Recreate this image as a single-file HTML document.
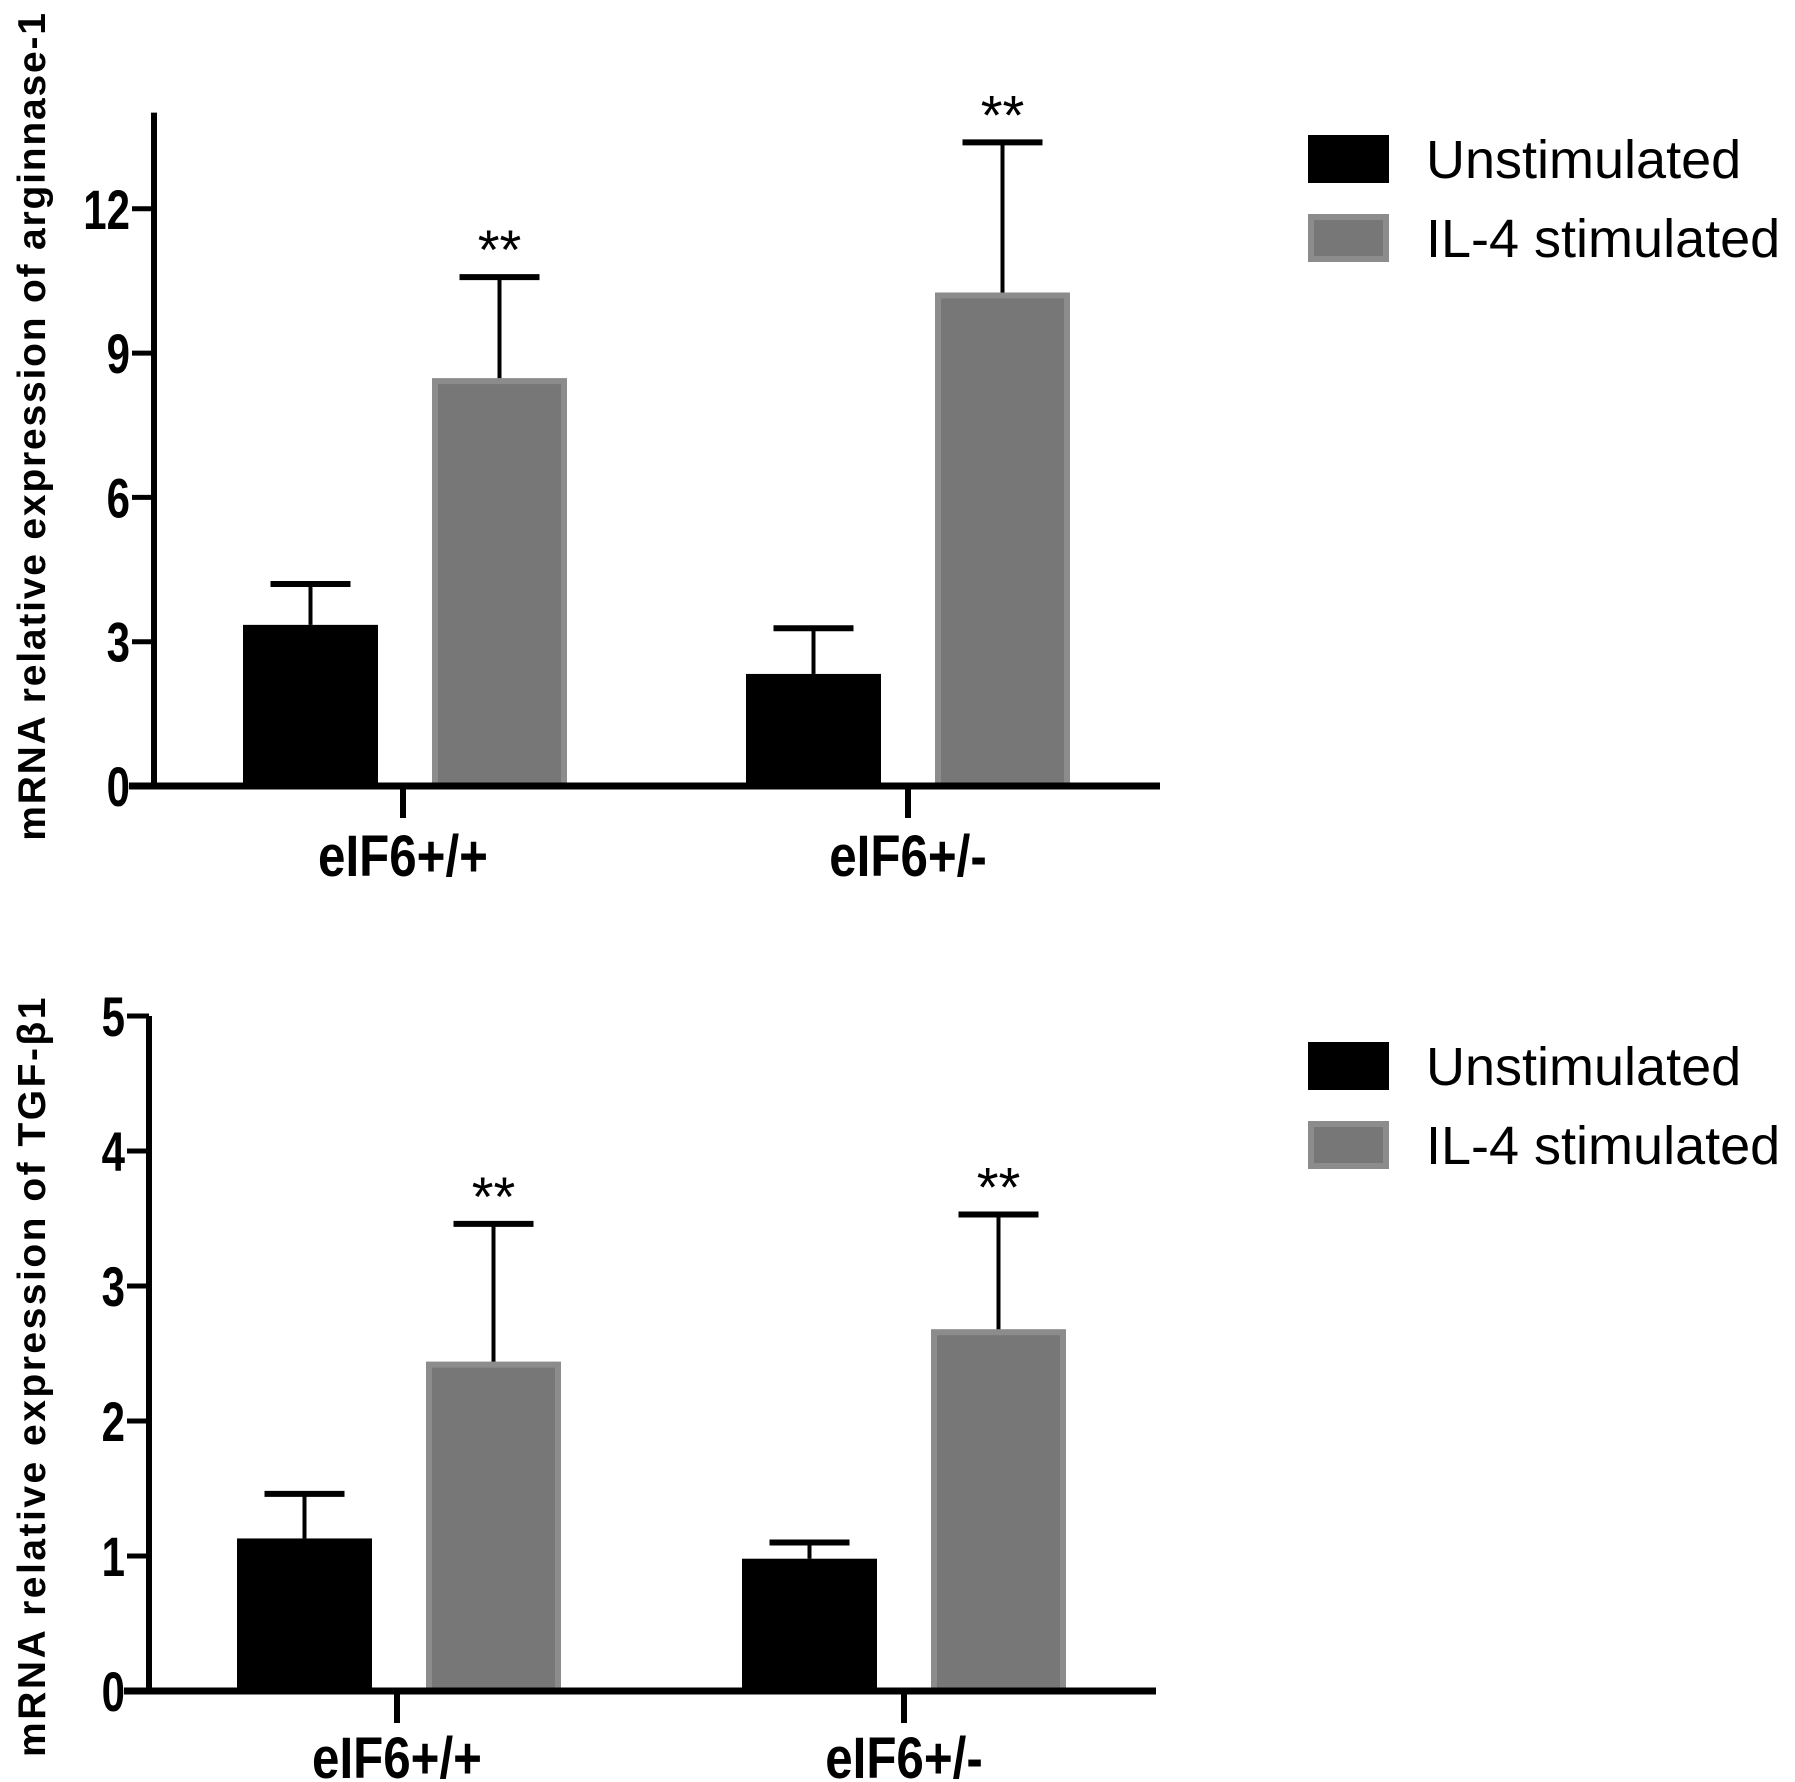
<!DOCTYPE html>
<html><head><meta charset="utf-8"><style>
html,body{margin:0;padding:0;background:#fff;}
svg{display:block;}
text{font-family:"Liberation Sans",Arial,sans-serif;font-weight:bold;fill:#000;}
</style></head><body>
<svg id="fig" width="1795" height="1782" viewBox="0 0 1795 1782" xmlns="http://www.w3.org/2000/svg"></svg>
<script>
const categories = ["eIF6+/+", "eIF6+/-"];
const seriesNames = ["Unstimulated", "IL-4 stimulated"];
// Panel A: arginase-1
const argUnstim = [3.35, 2.33];
const argUnstimErr = [0.85, 0.95];
const argIL4 = [8.48, 10.26];
const argIL4Err = [2.1, 3.12];
const argTicks = [0, 3, 6, 9, 12];
const argSig = ["", "**", "", "**"];
// Panel B: TGF-b1
const tgfUnstim = [1.13, 0.98];
const tgfUnstimErr = [0.33, 0.12];
const tgfIL4 = [2.44, 2.68];
const tgfIL4Err = [1.02, 0.85];
const tgfTicks = [0, 1, 2, 3, 4, 5];
const tgfSig = ["", "**", "", "**"];

const NS = "http://www.w3.org/2000/svg";
const svg = document.getElementById("fig");
function mk(tag, attrs, parent){
  const e = document.createElementNS(NS, tag);
  for (const k in attrs) e.setAttribute(k, attrs[k]);
  (parent || svg).appendChild(e);
  return e;
}

function panel(cfg){
  const g = mk("g", {});
  
  
  const y = v => cfg.y0 - v * cfg.pxPerUnit;
  const barW = 135;
  const groups = [[cfg.unstim, cfg.unstimErr], [cfg.il4, cfg.il4Err]];
  for (let c = 0; c < categories.length; c++) {
    for (let s = 0; s < 2; s++) {
      const left = cfg.barLeft[c] + s * cfg.seriesGap;
      const val = groups[s][0][c], err = groups[s][1][c];
      const top = y(val);
      const fill = s === 0 ? "#000" : "#777";
      const stroke = s === 0 ? "#000" : "#8c8c8c";
      const r = mk("rect", {x: left + 3, y: top + 3, width: barW - 6, height: cfg.y0 - top - 3, fill: fill, stroke: stroke, "stroke-width": 6}, g);
      
      
      const cx = left + barW / 2;
      const et = y(val + err);
      const el = mk("line", {x1: cx, y1: top, x2: cx, y2: et, stroke: "#000", "stroke-width": 4}, g);
      
      
      const cap = mk("line", {x1: cx - 40, y1: et, x2: cx + 40, y2: et, stroke: "#000", "stroke-width": 6}, g);
      
      
      const sig = cfg.sig[c * 2 + s];
      if (sig) {
        const t = mk("text", {x: cx, y: et - 8, "text-anchor": "middle", "font-size": 56, style: "font-weight:normal"}, g);
        t.textContent = sig;
        
        
      }
    }
    const tx = cfg.catTick[c];
    mk("line", {x1: tx, y1: cfg.y0, x2: tx, y2: cfg.y0 + 32, stroke: "#000", "stroke-width": 6}, g);
    const cl = mk("text", {x: tx, y: cfg.catLabelY, "text-anchor": "middle", "font-size": 58, transform: `translate(${tx},0) scale(0.85,1) translate(${-tx},0)`}, g);
    cl.textContent = categories[c];
    
    
  }
  const ya = mk("line", {x1: cfg.axisX, y1: y(cfg.yMax), x2: cfg.axisX, y2: cfg.y0 + 3, stroke: "#000", "stroke-width": 6}, g);
  
  
  const xa = mk("line", {x1: cfg.xStart, y1: cfg.y0, x2: cfg.xEnd, y2: cfg.y0, stroke: "#000", "stroke-width": 7}, g);
  
  
  for (const t of cfg.ticks) {
    mk("line", {x1: cfg.axisX - 22, y1: y(t), x2: cfg.axisX, y2: y(t), stroke: "#000", "stroke-width": 5}, g);
    const ax = cfg.axisX - 24;
    const tl = mk("text", {x: ax, y: y(t) + 20, "text-anchor": "end", "font-size": 56, transform: `translate(${ax},0) scale(0.75,1) translate(${-ax},0)`}, g);
    tl.textContent = t;
    
    
  }
  const yt = mk("text", {x: 0, y: 0, "text-anchor": "middle", "font-size": 39, "letter-spacing": cfg.titleSpacing, transform: `translate(45,${cfg.titleY}) rotate(-90)`}, g);
  yt.textContent = cfg.title;
  
  
  for (let s = 0; s < 2; s++) {
    const ly = cfg.legendY[s];
    const lr = mk("rect", {x: 1311, y: ly - 24 + 3, width: 75, height: 42, fill: s === 0 ? "#000" : "#777", stroke: s === 0 ? "#000" : "#8c8c8c", "stroke-width": 6}, g);
    
    
    const lt = mk("text", {x: 1426, y: ly + 19, "font-size": 54, style: "font-weight:normal"}, g);
    lt.textContent = seriesNames[s];
    
    
  }
}

panel({name: "arginase-chart", y0: 786, pxPerUnit: 48.1, yMax: 14, axisX: 154, xStart: 129, xEnd: 1160,
  ticks: argTicks, unstim: argUnstim, unstimErr: argUnstimErr, il4: argIL4, il4Err: argIL4Err, sig: argSig,
  barLeft: [243, 746], seriesGap: 189, catTick: [403, 908], catLabelY: 876,
  title: "mRNA relative expression of arginnase-1", titleY: 426, titleSpacing: 1.8, legendY: [159, 238]});
panel({name: "tgf-chart", y0: 1691, pxPerUnit: 135, yMax: 5, axisX: 149, xStart: 124, xEnd: 1156,
  ticks: tgfTicks, unstim: tgfUnstim, unstimErr: tgfUnstimErr, il4: tgfIL4, il4Err: tgfIL4Err, sig: tgfSig,
  barLeft: [237, 742], seriesGap: 189, catTick: [397, 904], catLabelY: 1778,
  title: "mRNA relative expression of TGF-β1", titleY: 1376, titleSpacing: 2.5, legendY: [1066, 1145]});
</script>
</body></html>
